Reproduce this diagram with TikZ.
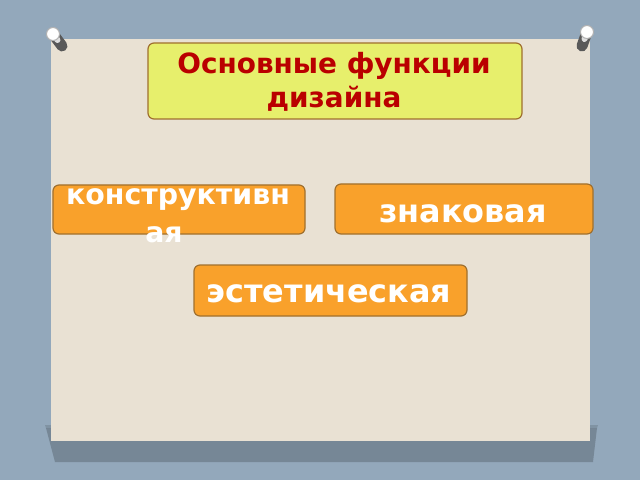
\documentclass[tikz,border=0pt]{standalone}
\usepackage{fontspec}
\setmainfont{DejaVu Sans}
\usetikzlibrary{calc}
\definecolor{bgblue}{HTML}{93A8BB}
\definecolor{paper}{HTML}{E9E1D3}
\definecolor{titlefill}{HTML}{E7EF6C}
\definecolor{boxedge}{HTML}{A0702E}
\definecolor{orangefill}{HTML}{F9A12B}
\definecolor{titletext}{HTML}{BA0000}
\definecolor{shadowgray}{HTML}{5F6C78}
\tikzset{
  fbox/.style={draw=boxedge, line width=1.2bp, rounded corners=6bp, inner sep=0pt},
  titlebox/.style={fbox, fill=titlefill},
  orangebox/.style={fbox, fill=orangefill},
  titlelabel/.style={text=titletext, font=\fontsize{28}{34}\selectfont\bfseries, anchor=base, inner sep=0pt},
  boxlabel/.style={text=white, font=\fontsize{32}{38}\selectfont\bfseries, anchor=base, inner sep=0pt},
  smalllabel/.style={boxlabel, font=\fontsize{28.5}{34}\selectfont\bfseries},
  pinshaft/.style={line width=11bp, line cap=round, draw=gray!70!black},
  pinhead/.style={circle, inner sep=0pt, minimum size=13bp, draw=gray!60, line width=1bp, fill=white}
}
\begin{document}
\begin{tikzpicture}[x=1bp,y=-1bp]
\useasboundingbox (0,0) rectangle (640,480);
\fill[bgblue] (0,0) rectangle (640,480);
% shadow of the panel
\fill[shadowgray, opacity=0.55] (46,428) -- (597,428) -- (593,462) -- (55,462) -- cycle;
\fill[shadowgray, opacity=0.35] (45,425) -- (598,425) -- (597,428) -- (46,428) -- cycle;
% panel
\fill[paper] (51,39) rectangle (590,441);
% pins
\coordinate (lpinhead) at (53,34);
\coordinate (lpintip) at (62,46);
\coordinate (rpinhead) at (587,32);
\coordinate (rpintip) at (582,46);
\draw[pinshaft] (lpinhead) -- (lpintip);
\draw[line width=6bp, line cap=round, draw=gray!25] (lpinhead) -- ($(lpinhead)!0.5!(lpintip)$);
\node[pinhead] (lpin) at (lpinhead) {};
\draw[pinshaft] (rpinhead) -- (rpintip);
\draw[line width=6bp, line cap=round, draw=gray!25] (rpinhead) -- ($(rpinhead)!0.5!(rpintip)$);
\node[pinhead] (rpin) at (rpinhead) {};
% title box
\node[titlebox, minimum width=374bp, minimum height=76bp] (title) at (335,81) {};
\node[titlelabel] (title1) at (334,74) {Основные функции};
\node[titlelabel] (title2) at (334,108) {дизайна};
% orange boxes
\node[orangebox, minimum width=252bp, minimum height=49bp] (constr) at (179,209.5) {};
\node[smalllabel] (constr1) at (178,205) {конструктивн};
\node[smalllabel] (constr2) at (164,243) {ая};
\node[orangebox, minimum width=258bp, minimum height=50bp] (sign) at (464,209) {};
\node[boxlabel] (sign1) at (463,223) {знаковая};
\node[orangebox, minimum width=273bp, minimum height=51bp] (aesth) at (330.5,290.5) {};
\node[boxlabel] (aesth1) at (329,302) {эстетическая};
\end{tikzpicture}
\end{document}
